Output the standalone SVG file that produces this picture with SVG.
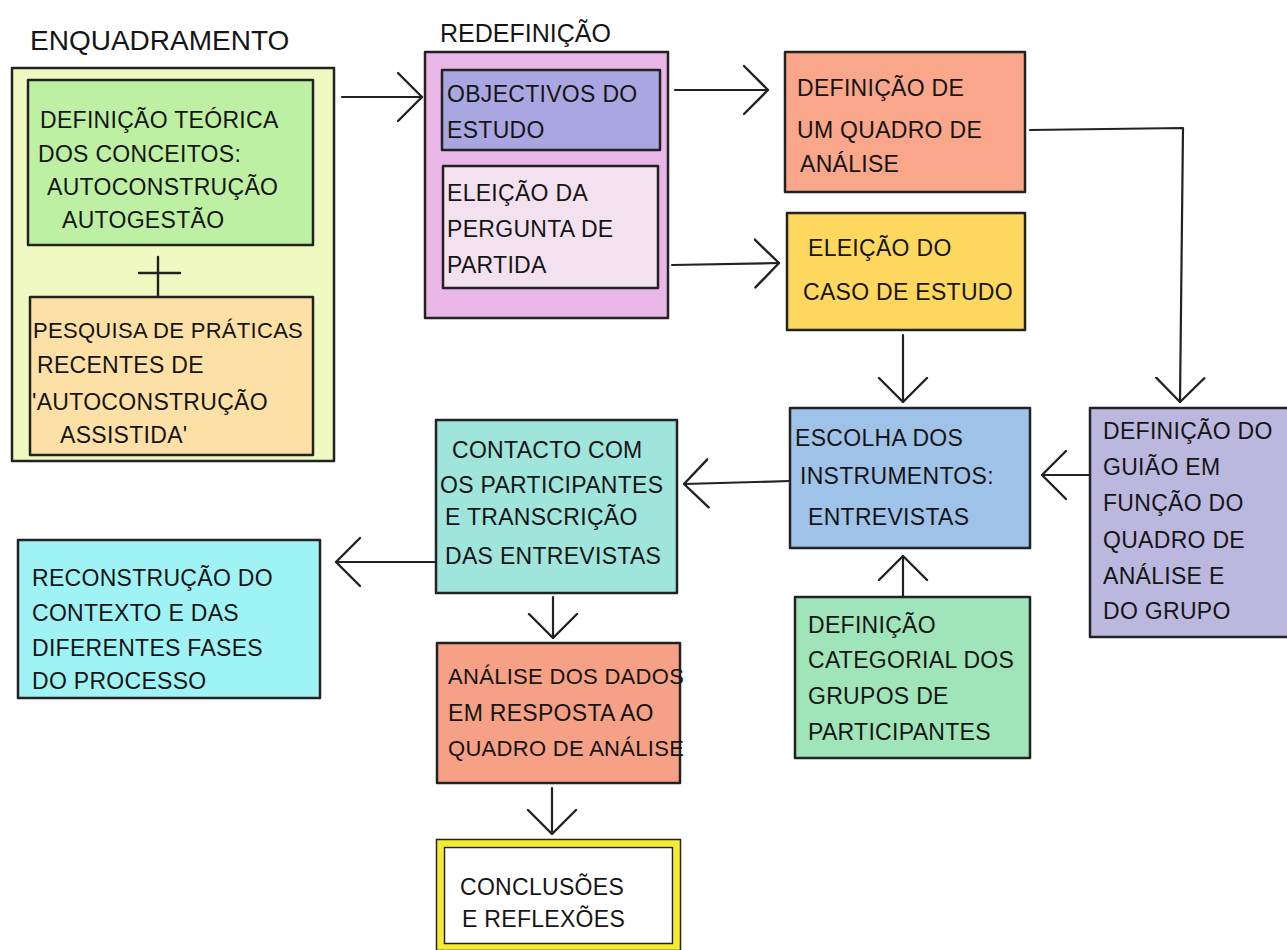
<svg xmlns="http://www.w3.org/2000/svg" width="1287" height="950" viewBox="0 0 1287 950">
<style>
  .box { stroke: #222; stroke-width: 2.5; stroke-linejoin: round; }
  .t { font-family: "Liberation Sans", Arial, sans-serif; font-size: 23px; fill: #151515; letter-spacing: 0.3px; }
  .title { font-family: "Liberation Sans", Arial, sans-serif; font-size: 28px; fill: #151515; }
  .conn { fill: none; stroke: #222; stroke-width: 2.2; stroke-linecap: round; stroke-linejoin: round; }
</style>
<defs>
  <marker id="arr" viewBox="0 0 26 52" markerWidth="26" markerHeight="52" refX="25" refY="26" orient="auto" markerUnits="userSpaceOnUse">
    <path d="M1,2 L25,26 L1,50" fill="none" stroke="#222" stroke-width="2.4" stroke-linecap="round" stroke-linejoin="round"/>
  </marker>
</defs>
<rect width="1287" height="950" fill="#ffffff"/>

<text class="title" x="30" y="50">ENQUADRAMENTO</text>
<text class="title" x="440" y="42" style="font-size:25px">REDEFINIÇÃO</text>

<g id="enquadramento">
  <rect class="box" x="12" y="68" width="322" height="393" fill="#f0f9c2"/>
</g>
<g id="definicao-teorica">
  <rect class="box" x="28" y="80" width="285" height="165" fill="#bdf0a3"/>
  <text class="t" x="40" y="128">DEFINIÇÃO TEÓRICA</text>
  <text class="t" x="38" y="162">DOS CONCEITOS:</text>
  <text class="t" x="47" y="195">AUTOCONSTRUÇÃO</text>
  <text class="t" x="62" y="228">AUTOGESTÃO</text>
</g>
<g id="plus">
  <path d="M158,257 V297 M139,273 H180" fill="none" stroke="#222" stroke-width="2.4" stroke-linecap="round"/>
</g>
<g id="pesquisa">
  <rect class="box" x="30" y="297" width="283" height="158" fill="#fde0a5"/>
  <text class="t" x="33" y="338" style="font-size:22px">PESQUISA DE PRÁTICAS</text>
  <text class="t" x="37" y="373">RECENTES DE</text>
  <text class="t" x="32" y="410">'AUTOCONSTRUÇÃO</text>
  <text class="t" x="60" y="443">ASSISTIDA'</text>
</g>

<g id="redefinicao">
  <rect class="box" x="425" y="52" width="243" height="266" fill="#e8b6e7"/>
</g>
<g id="objectivos">
  <rect class="box" x="442" y="70" width="218" height="80" fill="#aaa6e2"/>
  <text class="t" x="447" y="102">OBJECTIVOS DO</text>
  <text class="t" x="447" y="138">ESTUDO</text>
</g>
<g id="pergunta">
  <rect class="box" x="443" y="166" width="215" height="122" fill="#f3e1ef"/>
  <text class="t" x="447" y="201">ELEIÇÃO DA</text>
  <text class="t" x="447" y="237">PERGUNTA DE</text>
  <text class="t" x="447" y="273">PARTIDA</text>
</g>

<g id="quadro-analise">
  <rect class="box" x="785" y="52" width="240" height="140" fill="#f9a68b"/>
  <text class="t" x="797" y="96">DEFINIÇÃO DE</text>
  <text class="t" x="797" y="138">UM QUADRO DE</text>
  <text class="t" x="800" y="172">ANÁLISE</text>
</g>
<g id="caso-estudo">
  <rect class="box" x="787" y="213" width="238" height="117" fill="#fed85e"/>
  <text class="t" x="808" y="256">ELEIÇÃO DO</text>
  <text class="t" x="803" y="300">CASO DE ESTUDO</text>
</g>

<g id="guiao">
  <rect class="box" x="1090" y="408" width="200" height="229" fill="#bcb7de"/>
  <text class="t" x="1103" y="439">DEFINIÇÃO DO</text>
  <text class="t" x="1103" y="475">GUIÃO EM</text>
  <text class="t" x="1103" y="511">FUNÇÃO DO</text>
  <text class="t" x="1103" y="548">QUADRO DE</text>
  <text class="t" x="1103" y="584">ANÁLISE E</text>
  <text class="t" x="1103" y="619">DO GRUPO</text>
</g>

<g id="instrumentos">
  <rect class="box" x="790" y="408" width="240" height="140" fill="#9fc2e8"/>
  <text class="t" x="795" y="446">ESCOLHA DOS</text>
  <text class="t" x="800" y="484">INSTRUMENTOS:</text>
  <text class="t" x="808" y="525">ENTREVISTAS</text>
</g>

<g id="grupos">
  <rect class="box" x="795" y="597" width="235" height="161" fill="#9fe5b9"/>
  <text class="t" x="808" y="633">DEFINIÇÃO</text>
  <text class="t" x="808" y="668">CATEGORIAL DOS</text>
  <text class="t" x="808" y="704">GRUPOS DE</text>
  <text class="t" x="808" y="740">PARTICIPANTES</text>
</g>

<g id="contacto">
  <rect class="box" x="436" y="420" width="241" height="173" fill="#9fe5db"/>
  <text class="t" x="452" y="458">CONTACTO COM</text>
  <text class="t" x="440" y="493">OS PARTICIPANTES</text>
  <text class="t" x="445" y="525">E TRANSCRIÇÃO</text>
  <text class="t" x="445" y="564">DAS ENTREVISTAS</text>
</g>

<g id="reconstrucao">
  <rect class="box" x="18" y="540" width="302" height="158" fill="#a0f3f5"/>
  <text class="t" x="32" y="586">RECONSTRUÇÃO DO</text>
  <text class="t" x="32" y="621">CONTEXTO E DAS</text>
  <text class="t" x="32" y="656">DIFERENTES FASES</text>
  <text class="t" x="32" y="689">DO PROCESSO</text>
</g>

<g id="analise-dados">
  <rect class="box" x="437" y="643" width="243" height="140" fill="#f6a086"/>
  <text class="t" x="448" y="684" style="font-size:22px">ANÁLISE DOS DADOS</text>
  <text class="t" x="448" y="721">EM RESPOSTA AO</text>
  <text class="t" x="448" y="756" style="font-size:22px">QUADRO DE ANÁLISE</text>
</g>

<g id="conclusoes">
  <rect x="440" y="843" width="237" height="104" fill="#ffffff" stroke="#f5ec2e" stroke-width="7"/>
  <rect x="436.5" y="839.5" width="244" height="111" fill="none" stroke="#222" stroke-width="1.5"/>
  <rect x="444.5" y="847.5" width="228" height="96" fill="none" stroke="#222" stroke-width="1.5"/>
  <text class="t" x="460" y="895">CONCLUSÕES</text>
  <text class="t" x="462" y="927">E REFLEXÕES</text>
</g>

<g id="connectors">
  <path class="conn" d="M342,97 H422" marker-end="url(#arr)"/>
  <path class="conn" d="M675,90 H768" marker-end="url(#arr)"/>
  <path class="conn" d="M672,265 L779,263" marker-end="url(#arr)"/>
  <path class="conn" d="M1030,130 L1183,128 L1180,402" marker-end="url(#arr)"/>
  <path class="conn" d="M903,335 V402" marker-end="url(#arr)"/>
  <path class="conn" d="M1090,475 H1042" marker-end="url(#arr)"/>
  <path class="conn" d="M790,481 L684,484" marker-end="url(#arr)"/>
  <path class="conn" d="M903,597 V556" marker-end="url(#arr)"/>
  <path class="conn" d="M436,562 H336" marker-end="url(#arr)"/>
  <path class="conn" d="M553,597 V638" marker-end="url(#arr)"/>
  <path class="conn" d="M552,788 V834" marker-end="url(#arr)"/>
</g>
</svg>
